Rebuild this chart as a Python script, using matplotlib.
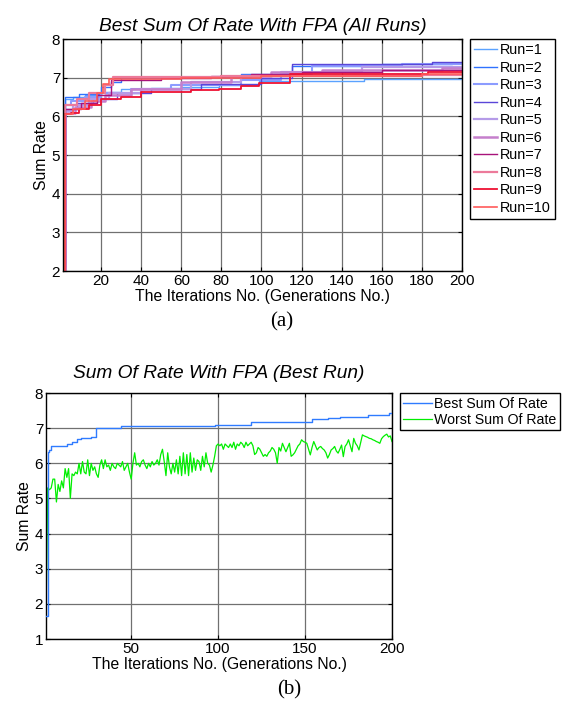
import matplotlib

matplotlib.use("Agg")
import matplotlib.pyplot as plt

plt.rcParams["font.family"] = ["Liberation Sans", "DejaVu Sans"]

N_ITER = 200

# Top panel: best sum rate per run (step change points: iteration, value)
run_labels = [f"Run={i}" for i in range(1, 11)]
run_colors = ["#5aa2ff", "#2f72ff", "#8c9cff", "#5a46d8", "#b59be8",
              "#c57fcc", "#a8137a", "#ec7a9a", "#ee1133", "#ff5a5a"]
run_widths = [1.0, 1.0, 1.5, 1.0, 1.6, 1.8, 1.0, 1.6, 1.3, 1.2]

run_iters = [
    [1, 2, 6, 12, 20, 30, 45, 60, 79, 99, 151],
    [1, 2, 9, 20, 25, 30, 60, 90, 115, 160, 195],
    [1, 2, 5, 12, 20, 35, 55, 90, 110, 125, 170],
    [1, 2, 8, 16, 28, 45, 70, 100, 115, 185],
    [1, 2, 6, 14, 24, 40, 65, 90, 110, 150],
    [1, 2, 7, 15, 22, 35, 60, 85, 105, 130, 190],
    [1, 2, 10, 18, 25, 50, 75, 95, 120, 160],
    [1, 2, 8, 14, 22, 26, 80, 180],
    [1, 2, 5, 9, 14, 20, 30, 40, 65, 79, 90, 99, 114, 183],
    [1, 2, 6, 12, 18, 21, 24, 60, 100, 180],
]
run_values = [
    [2.1, 6.45, 6.5, 6.55, 6.62, 6.7, 6.74, 6.77, 6.82, 6.91, 6.98],
    [2.2, 6.5, 6.57, 6.75, 6.9, 7.0, 7.03, 7.1, 7.3, 7.35, 7.37],
    [2.0, 6.3, 6.4, 6.5, 6.6, 6.7, 6.8, 6.95, 7.1, 7.3, 7.35],
    [2.0, 6.2, 6.35, 6.45, 6.6, 6.7, 6.85, 7.0, 7.36, 7.41],
    [2.0, 6.15, 6.3, 6.45, 6.6, 6.7, 6.9, 7.05, 7.15, 7.28],
    [2.0, 6.1, 6.25, 6.4, 6.55, 6.7, 6.9, 7.05, 7.15, 7.2, 7.24],
    [2.0, 6.2, 6.35, 6.55, 6.95, 7.0, 7.05, 7.1, 7.15, 7.2],
    [2.0, 6.3, 6.45, 6.6, 6.8, 7.02, 7.04, 7.07],
    [2.0, 6.05, 6.1, 6.2, 6.3, 6.45, 6.5, 6.62, 6.67, 6.72, 6.78, 6.87, 7.1, 7.15],
    [2.0, 6.05, 6.2, 6.4, 6.6, 6.85, 6.97, 7.0, 7.05, 7.1],
]

# Bottom panel: best run
best_iters = [1, 2, 3, 4, 13, 16, 19, 21, 27, 30, 44, 98, 119, 154, 163, 170, 186, 198]
best_values = [1.65, 6.33, 6.38, 6.48, 6.55, 6.62, 6.7, 6.72, 6.75, 7.0, 7.05,
               7.1, 7.18, 7.26, 7.3, 7.33, 7.38, 7.42]

worst_values = [
    1.6, 5.3, 5.25, 5.3, 5.55, 5.55, 4.9, 5.4, 5.2, 5.5,
    5.3, 5.85, 5.6, 5.85, 5.0, 5.7, 5.65, 5.75, 5.7, 6.0,
    5.7, 6.05, 5.75, 5.7, 6.1, 5.65, 6.0, 5.8, 5.9, 5.7,
    5.6, 5.95, 6.1, 5.85, 6.1, 5.9, 5.95, 5.8, 6.0, 5.9,
    5.85, 6.0, 5.95, 5.9, 6.05, 5.8, 5.9, 6.0, 5.75, 5.55,
    6.0, 6.3, 5.95, 6.0, 5.9, 6.05, 6.1, 5.95, 5.85, 6.0,
    5.9, 6.05, 5.95, 6.0, 6.1, 5.95, 6.25, 6.4, 6.05, 5.65,
    6.3, 5.9, 5.7, 6.0, 5.75, 6.1, 5.7, 6.2, 5.65, 6.3,
    5.7, 6.25, 5.65, 6.3, 5.75, 6.15, 5.8, 6.1, 6.05, 5.8,
    6.2, 5.9, 6.3, 6.0, 5.95, 5.75, 5.95, 6.2, 6.5, 6.55,
    6.5, 6.55, 6.4, 6.55, 6.5, 6.45, 6.55, 6.45, 6.6, 6.4,
    6.55, 6.5, 6.6, 6.55, 6.45, 6.6, 6.5, 6.55, 6.6, 6.5,
    6.25, 6.3, 6.45, 6.4, 6.3, 6.2, 6.25, 6.2, 6.3, 6.35,
    6.45, 6.4, 6.3, 6.0, 6.45, 6.35, 6.57, 6.45, 6.33, 6.45,
    6.57, 6.2, 6.24, 6.3, 6.4, 6.5, 6.55, 6.67, 6.62, 6.6,
    6.57, 6.4, 6.24, 6.45, 6.62, 6.5, 6.38, 6.45, 6.48, 6.42,
    6.38, 6.3, 6.15, 6.25, 6.38, 6.42, 6.48, 6.35, 6.29, 6.4,
    6.52, 6.19, 6.48, 6.55, 6.67, 6.5, 6.33, 6.71, 6.57, 6.5,
    6.38, 6.6, 6.81, 6.78, 6.76, 6.74, 6.71, 6.7, 6.67, 6.65,
    6.62, 6.6, 6.57, 6.7, 6.76, 6.8, 6.83, 6.75, 6.78, 6.62,
]

XLABEL = "The Iterations No. (Generations No.)"
TICK_FS = 11
LABEL_FS = 11.3
TITLE_FS = 13.8
GRID_KW = dict(color="#707070", linewidth=0.9)


def style_axes(ax):
    ax.grid(True, **GRID_KW)
    ax.set_axisbelow(True)
    ax.tick_params(direction="in", top=True, right=True, labelsize=TICK_FS,
                   length=3, pad=2)
    for sp in ax.spines.values():
        sp.set_linewidth(1.0)


fig = plt.figure(figsize=(5.65, 7.04), dpi=100)

# ---- (a) all runs ----
ax1 = fig.add_axes([0.1115, 0.615, 0.706, 0.3295])
for xs, ys, c, lw, lab in zip(run_iters, run_values, run_colors, run_widths, run_labels):
    ax1.step(xs + [N_ITER], ys + [ys[-1]], where="post", color=c, lw=lw, label=lab)
ax1.set_xlim(1, N_ITER)
ax1.set_ylim(2, 8)
ax1.set_xticks(range(20, 201, 20))
ax1.set_yticks(range(2, 9))
style_axes(ax1)
ax1.set_title("Best Sum Of Rate With FPA (All Runs)", fontsize=TITLE_FS,
              style="italic", pad=6)
ax1.set_xlabel(XLABEL, fontsize=LABEL_FS, labelpad=1)
ax1.set_ylabel("Sum Rate", fontsize=LABEL_FS, labelpad=2)
leg1 = ax1.legend(loc="upper left", bbox_to_anchor=(1.02, 1.0), borderaxespad=0,
                  fontsize=10.4, handlelength=1.6, handletextpad=0.2,
                  labelspacing=0.24, borderpad=0.3, fancybox=False,
                  edgecolor="black", framealpha=1)
leg1.get_frame().set_linewidth(1.0)
fig.text(282 / 565, 1 - 322 / 704, "(a)", ha="center", va="center",
         fontsize=15, family="Liberation Serif")

# ---- (b) best run ----
ax2 = fig.add_axes([0.0814, 0.0923, 0.6124, 0.3494])
ax2.plot(range(1, N_ITER + 1), worst_values, color="#00ee00", lw=0.9,
         label="Worst Sum Of Rate", zorder=2)
ax2.step(best_iters + [N_ITER], best_values + [best_values[-1]], where="post",
         color="#2f7bff", lw=1.0, label="Best Sum Of Rate", zorder=3)
ax2.set_xlim(1, N_ITER)
ax2.set_ylim(1, 8)
ax2.set_xticks([50, 100, 150, 200])
ax2.set_yticks(range(1, 9))
style_axes(ax2)
ax2.set_title("Sum Of Rate With FPA (Best Run)", fontsize=TITLE_FS,
              style="italic", pad=11)
ax2.set_xlabel(XLABEL, fontsize=LABEL_FS, labelpad=1)
ax2.set_ylabel("Sum Rate", fontsize=LABEL_FS, labelpad=2)
h, l = ax2.get_legend_handles_labels()
leg2 = ax2.legend(h[::-1], l[::-1], loc="upper left", bbox_to_anchor=(1.023, 1.0),
                  borderaxespad=0, fontsize=10.2, handlelength=2.0,
                  handletextpad=0.15, labelspacing=0.15, borderpad=0.25,
                  fancybox=False, edgecolor="black", framealpha=1)
leg2.get_frame().set_linewidth(1.0)
fig.text(289 / 565, 1 - 690 / 704, "(b)", ha="center", va="center",
         fontsize=15, family="Liberation Serif")

fig.savefig("out.png", dpi=100)
plt.close(fig)
